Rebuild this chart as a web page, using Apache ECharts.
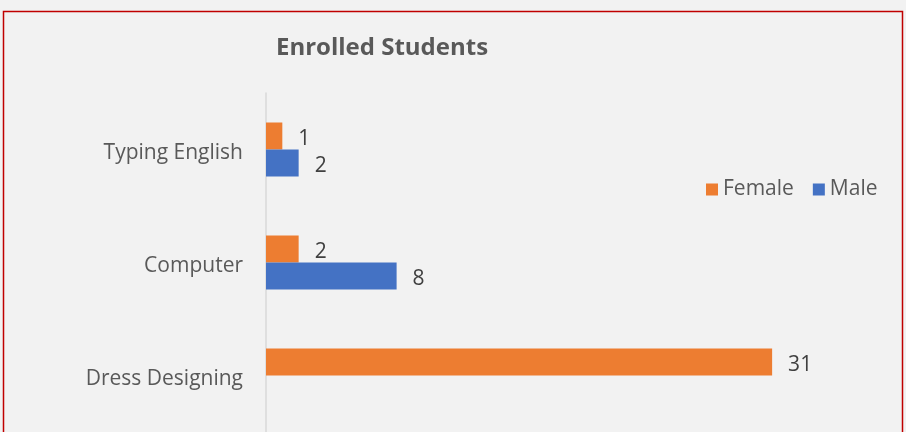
<!DOCTYPE html>
<html><head><meta charset="utf-8">
<script src="https://cdn.jsdelivr.net/npm/echarts@6/dist/echarts.min.js"></script>
<style>html,body{margin:0;padding:0;background:#f2f2f2;}#c{width:906px;height:432px;}</style>
</head><body><div id="c"></div>
<script>
const categories = ['Dress Designing', 'Computer', 'Typing English'];
const female = [31, 2, 1];
const male = [null, 8, 2];
const seriesNames = ['Female', 'Male'];
const titleText = 'Enrolled Students';

const chart = echarts.init(document.getElementById('c'));
const font = 'Open Sans, Noto Sans, sans-serif';
const lbl = {show: true, position: 'right', distance: 16, offset: [0, 3], color: '#404040', fontSize: 21, fontFamily: font,
  formatter: p => (p.value == null ? '' : p.value)};
chart.setOption({
  backgroundColor: '#f2f2f2',
  animation: false,
  title: {text: titleText, left: 377, top: 31, textAlign: 'center',
    textStyle: {fontFamily: font, fontSize: 24, fontWeight: 'bold', color: '#595959'}},
  legend: {data: seriesNames, left: 701, top: 174, itemWidth: 12, itemHeight: 12, itemGap: 19,
    icon: 'rect', textStyle: {fontFamily: font, fontSize: 21, color: '#595959'}},
  grid: {left: 266, top: 93, width: 640, height: 341},
  xAxis: {type: 'value', min: 0, max: 39.2, show: false},
  yAxis: {type: 'category', data: categories,
    axisLine: {show: true, lineStyle: {color: '#d9d9d9', width: 1.5}},
    axisTick: {show: false},
    axisLabel: {margin: 23, formatter: v => '{a|' + v + '}',
      rich: {a: {fontFamily: font, fontSize: 21, color: '#595959', padding: [7, 0, 0, 0]}}}},
  series: [
    {name: 'Female', type: 'bar', data: female, barWidth: 27, barGap: '0%', itemStyle: {color: '#ed7d31'}, label: lbl},
    {name: 'Male', type: 'bar', data: male, barWidth: 27, barGap: '0%', itemStyle: {color: '#4472c4'}, label: lbl}
  ],
  graphic: [{type: 'rect', silent: true, shape: {x: 3.5, y: 11.5, width: 899, height: 440},
    style: {fill: 'none', stroke: '#c00000', lineWidth: 1.5}}]
});
</script></body></html>
